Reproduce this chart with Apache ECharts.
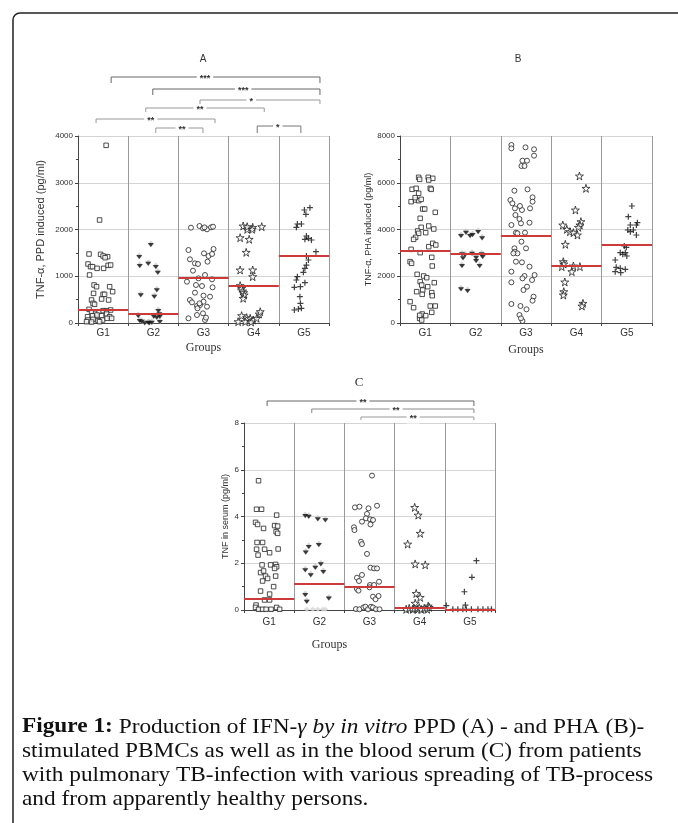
<!DOCTYPE html>
<html><head><meta charset="utf-8">
<script src="https://cdn.jsdelivr.net/npm/echarts@6/dist/echarts.min.js"></script>
<style>html,body{margin:0;padding:0;background:#fff}#c{width:678px;height:823px}</style>
</head><body><div id="c"></div>
<script>
// ---------- categories ----------
const groups = ['G1','G2','G3','G4','G5'];
// ---------- Panel A : TNF-α, PPD induced (pg/ml) ; points are [jitter within group, value] ----------
const A_G1 = [[0.06,3800],[-0.07,2203],[-0.28,1476],[-0.05,1469],[0,1433],[0.09,1419],[0.04,1397],[-0.30,1262],[-0.25,1205],[-0.21,1205],[-0.12,1169],[0.01,1169],[0.10,1233],[0.15,1240],[-0.27,1027],[-0.18,813],[-0.13,777],[0.13,777],[0,613],[0.03,613],[0.19,670],[-0.19,634],[-0.23,492],[-0.2,420],[-0.03,513],[0.11,492],[-0.17,399],[-0.28,292],[-0.23,242],[-0.15,207],[-0.08,242],[0,264],[0.07,264],[0.15,278],[-0.31,135],[-0.21,157],[-0.12,171],[-0.03,157],[0.07,192],[0.13,135],[-0.3,64],[-0.2,78],[-0.1,50],[-0.01,64],[0.08,100],[0.17,100],[-0.33,28],[-0.23,21],[-0.07,28]];
const A_G2 = [[-0.05,1690],[-0.28,1433],[-0.27,1240],[-0.10,1290],[0.05,1219],[0.09,1098],[-0.25,613],[0.02,585],[0.07,720],[-0.3,171],[0.1,278],[0.12,207],[0.07,135],[0.13,157],[-0.27,64],[-0.17,14],[-0.1,28],[-0.03,28],[0.01,157],[0.13,43],[-0.08,14],[-0.23,50]];
const A_G3 = [[-0.25,2039],[-0.08,2075],[-0.01,2025],[0.07,2004],[0.15,2046],[0.19,2060],[0.02,2046],[-0.3,1561],[0.2,1583],[0.01,1490],[0.1,1433],[0.17,1476],[-0.27,1362],[-0.17,1276],[-0.11,1262],[-0.21,1119],[0.08,1312],[-0.1,955],[0.03,1027],[0.17,934],[-0.33,884],[-0.15,813],[-0.03,791],[0.18,763],[-0.17,649],[0,585],[0.13,563],[-0.27,492],[-0.23,442],[-0.13,364],[-0.07,385],[0,456],[0.07,349],[-0.3,100],[-0.13,171],[-0.01,207],[0.03,64],[0.05,114],[-0.12,314],[-0.08,420]];
const A_G4 = [[-0.21,2075],[-0.13,2004],[-0.02,2046],[-0.13,2060],[0.16,2060],[-0.03,2004],[-0.27,1825],[-0.09,1790],[-0.15,1512],[-0.27,1134],[-0.02,1134],[-0.02,991],[-0.27,799],[-0.24,741],[-0.22,684],[-0.2,649],[-0.19,599],[-0.21,528],[-0.24,157],[-0.14,114],[-0.07,100],[-0.01,64],[0.06,100],[0.11,192],[0.13,242],[-0.31,28],[-0.17,28],[-0.05,21]];
const A_G5 = [[0.01,2417],[0.12,2467],[0.04,2324],[-0.13,2118],[-0.05,2118],[-0.15,2046],[0.05,1861],[0.09,1811],[0.02,1790],[0.15,1775],[0.24,1526],[0.05,1433],[0.09,1348],[0.05,1240],[0.02,1169],[-0.01,1084],[-0.13,991],[-0.15,920],[-0.07,777],[0.02,863],[-0.19,763],[-0.08,563],[-0.07,420],[-0.05,314],[-0.19,278],[-0.11,299]];
const A_median = [280,192,962,791,1433];
// ---------- Panel B : TNF-α, PHA induced (pg/ml) ----------
const B_G1 = [[-0.13,6232],[-0.11,6146],[0.06,6232],[0.15,6189],[0.07,6117],[-0.26,5718],[-0.18,5761],[0.1,5761],[0.12,5718],[-0.13,5547],[-0.28,5190],[-0.19,5262],[-0.13,5233],[-0.08,5290],[-0.2,5362],[-0.05,4877],[-0.01,4877],[0.2,4734],[-0.1,4478],[-0.08,4093],[0.07,4150],[0.17,4021],[-0.15,3936],[0.01,3864],[-0.13,3836],[-0.19,3665],[-0.23,3579],[0.07,3265],[0.15,3408],[0.21,3337],[-0.28,3151],[-0.1,3009],[0.13,2809],[0.14,2438],[-0.3,2624],[-0.27,2553],[-0.16,2082],[-0.03,2011],[0.03,1939],[-0.1,1768],[-0.07,1626],[0.05,1554],[0.18,1725],[0.13,1298],[0.14,1169],[-0.17,1340],[-0.05,1412],[-0.06,1226],[-0.3,913],[-0.23,656],[0.1,727],[0.2,727],[0.13,456],[-0.06,385],[0.01,314],[-0.11,200],[-0.07,128],[-0.11,328]];
const B_G2 = [[-0.29,3765],[-0.19,3907],[-0.11,3765],[-0.06,3807],[0.05,3936],[0.13,3665],[-0.27,2980],[-0.25,2809],[-0.21,2952],[-0.07,3009],[0.01,2838],[0.01,2695],[0.12,2980],[0.14,2866],[-0.27,2481],[0.08,2481],[-0.29,1483],[-0.16,1412]];
const B_G3 = [[-0.29,7615],[-0.29,7472],[-0.01,7515],[0.16,7430],[0.16,7158],[-0.07,6944],[0.02,6944],[-0.09,6716],[-0.03,6716],[-0.23,5661],[0.03,5718],[-0.31,5262],[-0.27,5119],[-0.22,4905],[-0.08,4834],[-0.12,5005],[-0.21,4620],[-0.13,4449],[-0.1,4264],[0.07,4292],[-0.29,4192],[0.13,5376],[0.13,5190],[0.08,4905],[-0.2,3864],[-0.17,3836],[-0.02,3864],[-0.09,3479],[-0.23,3194],[-0.22,3051],[-0.17,2980],[-0.25,2980],[0,3194],[-0.2,2624],[-0.08,2595],[0.07,2410],[-0.29,2196],[-0.03,2011],[-0.07,1911],[0.17,2053],[-0.29,1740],[0.12,1839],[-0.05,1412],[0.02,1554],[0.15,1127],[0.13,955],[-0.29,813],[-0.11,727],[0.01,585],[-0.13,342],[-0.07,86],[-0.1,200]];
const B_G4 = [[0.06,6289],[0.19,5761],[-0.02,4834],[0.09,4335],[0.07,4192],[-0.27,4192],[0.04,4093],[-0.19,4007],[-0.13,3907],[-0.06,3865],[0.02,3765],[-0.22,3366],[-0.26,2624],[-0.25,2524],[-0.29,2410],[-0.06,2439],[0.07,2410],[-0.09,2196],[-0.23,1754],[-0.25,1340],[-0.26,1198],[0.13,841],[0.11,727]];
const B_G5 = [[0.1,5005],[0.03,4549],[0.07,4192],[0.21,4292],[0.19,4192],[0.02,3979],[0.07,3907],[0.13,3979],[0.19,3765],[-0.05,3294],[-0.01,3237],[-0.13,3009],[-0.08,2938],[-0.03,3009],[0,2866],[-0.23,2695],[-0.21,2381],[-0.13,2339],[-0.03,2296],[-0.23,2196],[-0.12,2153]];
const B_median = [3080,2950,3720,2470,3337];
// ---------- Panel C : TNF in serum (pg/ml) ----------
const C_G1 = [[-0.21,5.53],[-0.25,4.31],[-0.15,4.31],[0.15,4.06],[-0.27,3.75],[-0.23,3.66],[-0.11,3.49],[0.11,3.61],[0.17,3.59],[0.14,3.35],[0.17,3.28],[-0.24,2.89],[-0.13,2.89],[-0.25,2.6],[-0.09,2.6],[-0.22,2.35],[0.01,2.45],[0.18,2.61],[-0.14,1.93],[0.03,1.93],[0.13,1.95],[0.15,1.85],[0.11,1.78],[-0.17,1.6],[-0.11,1.67],[-0.07,1.45],[-0.03,1.35],[-0.13,1.24],[0.13,1.45],[-0.17,0.81],[0.01,0.68],[0.09,1.0],[-0.09,0.43],[0.01,0.43],[-0.26,0.21],[-0.27,0.11],[-0.21,0.03],[-0.13,0.03],[-0.06,0.03],[0.04,0.03],[0.15,0.11],[0.21,0.03]];
const C_G2 = [[-0.28,4.06],[-0.21,4.03],[-0.03,3.92],[0.12,3.88],[-0.21,2.74],[-0.01,2.82],[-0.27,2.5],[-0.08,1.85],[0.03,2.0],[-0.28,1.74],[-0.17,1.53],[0.08,1.67],[-0.28,0.68],[-0.25,0.4],[0.19,0.54]];
const C_G2_zero = [[-0.25,0.03],[-0.13,0.03],[-0.03,0.03],[0.07,0.03],[0.12,0.03]];
const C_G3 = [[0.05,5.75],[-0.29,4.39],[-0.2,4.42],[-0.02,4.35],[0.15,4.46],[-0.05,4.11],[-0.07,3.92],[-0.15,3.78],[0.01,3.88],[0.07,3.85],[0.02,3.66],[-0.31,3.54],[-0.3,3.42],[-0.17,2.92],[-0.15,2.82],[-0.05,2.4],[0.02,1.81],[0.09,1.78],[0.15,1.78],[-0.25,1.38],[-0.15,1.5],[-0.21,1.24],[0.19,1.21],[0.01,1.07],[0.09,1.07],[0,0.97],[-0.25,0.9],[-0.22,0.83],[0.07,0.57],[0.12,0.46],[0.18,0.6],[-0.27,0.04],[-0.2,0.03],[-0.12,0.11],[-0.08,0.14],[-0.03,0.03],[0.03,0.14],[0.07,0.11],[0.13,0.03],[0.2,0.03]];
const C_G4 = [[-0.1,4.39],[-0.03,4.06],[0.01,3.28],[-0.24,2.82],[-0.09,1.97],[0.11,1.93],[-0.07,0.71],[0.01,0.54],[-0.09,0.29],[0.17,0.17],[-0.27,0.03],[-0.21,0.07],[-0.14,0.03],[-0.11,0.07],[-0.04,0.03],[-0.01,0.1],[0.03,0.03],[0.09,0.07],[0.15,0.03],[0.19,0.11]];
const C_G5 = [[0.13,2.11],[0.04,1.4],[-0.11,0.78],[-0.09,0.21],[-0.47,0.19],[-0.34,0.03],[-0.24,0.03],[-0.14,0.03],[-0.07,0.03],[0.03,0.03],[0.16,0.03],[0.26,0.03],[0.36,0.03],[0.43,0.03]];
const C_median = [0.48,1.13,1.0,0.09,0.02];
// ---------- significance brackets: [from, to (group units), label] ----------
const A_brackets = [[0.66,4.82,'***'],[1.49,4.82,'***'],[2.43,4.82,'*'],[1.35,3.71,'**'],[0.36,2.73,'**'],[1.55,2.49,'**'],[3.57,4.44,'*']];
const C_brackets = [[0.46,4.58,'**'],[1.35,4.58,'**'],[2.33,4.58,'**']];

// ---------- layout / style (not data) ----------
const A_bracketLayout = [[-59,-53,2.53,'#666'],[-47,-41,3.29,'#666'],[-36,-32,3.45,'#999'],[-28,-24,2.43,'#999'],[-17,-13,1.45,'#999'],[-8,-3,2.07,'#999'],[-10,-3,3.98,'#777']];
const C_bracketLayout = [[-22,-17,2.37,'#666'],[-14,-10,3.03,'#888'],[-6,-3,3.37,'#999']];
const STAR = 'path://M50,0 L61,35 L98,35 L68,57 L79,91 L50,70 L21,91 L32,57 L2,35 L39,35 Z';
const PLUS = 'path://M4,0h2v4h4v2h-4v4h-2v-4h-4v-2h4z';
const TRI = 'path://M0,0L10,0L5,8Z';
const open = {color:'#fff', borderColor:'#222', borderWidth:1};

const chart = echarts.init(document.getElementById('c'), null, {renderer:'canvas'});

const grids = [
  {left:78, top:136, width:251, height:187},
  {left:400, top:136, width:252, height:187},
  {left:244, top:423, width:251, height:187}
];
const yCfg = [
  {max:4000, interval:1000, name:'TNF-\u03b1, PPD induced (pg/ml)', gap:32, fs:11},
  {max:8000, interval:2000, name:'TNF-\u03b1, PHA induced (pg/ml)', gap:23, fs:9},
  {max:8, interval:2, name:'TNF in serum (pg/ml)', gap:14, fs:9}
];
const xNameGap = [19, 21, 29];
const xNamePad = [[0,0,0,0],[0,0,0,0],[0,80,0,0]];

const xAxis = [], yAxis = [], series = [];
function pts(arr, g){ return arr.map(p => [g + 0.5 + p[0], p[1]]); }

const panels = [
  {g:[A_G1,A_G2,A_G3,A_G4,A_G5], med:A_median},
  {g:[B_G1,B_G2,B_G3,B_G4,B_G5], med:B_median},
  {g:[C_G1,C_G2,C_G3,C_G4,C_G5], med:C_median, zero:C_G2_zero}
];

panels.forEach((p, k) => {
  xAxis.push({
    type:'category', gridIndex:k, data:groups, boundaryGap:true,
    axisLine:{lineStyle:{color:'#444', width:1}},
    axisTick:{show:true, length:3, lineStyle:{color:'#444'}},
    axisLabel:{color:'#333', fontSize:10, fontFamily:'Liberation Sans', margin:k===2?7:5},
    splitLine:{show:true, lineStyle:{color:'#9a9a9a', width:1}},
    name:'Groups', nameLocation:'middle', nameGap:xNameGap[k],
    nameTextStyle:{fontFamily:'Liberation Serif', fontSize:12, color:'#333', padding:xNamePad[k]}
  });
  xAxis.push({type:'value', gridIndex:k, min:0, max:5, show:false});
  const y = yCfg[k];
  yAxis.push({
    type:'value', gridIndex:k, min:0, max:y.max, interval:y.interval,
    axisLine:{show:true, lineStyle:{color:'#444'}},
    axisTick:{show:true, length:3, lineStyle:{color:'#444'}},
    minorTick:{show:true, splitNumber:2, length:2, lineStyle:{color:'#444'}},
    axisLabel:{color:'#333', fontSize:8, fontFamily:'Liberation Sans', margin:5, formatter:v => String(v)},
    splitLine:{show:true, lineStyle:{color:'#d4d4d4'}},
    name:y.name, nameLocation:'middle', nameGap:y.gap,
    nameTextStyle:{fontFamily:'Liberation Sans', fontSize:y.fs, color:'#333'}
  });
  const xi = 2*k+1, yi = k;
  const base = {type:'scatter', xAxisIndex:xi, yAxisIndex:yi, silent:true, animation:false};
  series.push(Object.assign({}, base, {data:pts(p.g[0],0), symbol:'rect', symbolSize:4.5, itemStyle:open,
    markLine:{silent:true, symbol:['none','none'], label:{show:false}, animation:false,
      lineStyle:{color:'#cc3b3b', width:2, type:'solid'},
      data:p.med.map((m,i)=>[{coord:[i,m]},{coord:[i+1,m]}])}, z:3}));
  const g2 = p.g[1];
  series.push(Object.assign({}, base, {data:pts(g2,1), symbol:'diamond', symbolSize:[6,7], itemStyle:{color:'#c8c8c8'}, z:2}));
  series.push(Object.assign({}, base, {data:pts(g2,1), symbol:TRI, symbolSize:[6,4], symbolOffset:[0,1], itemStyle:{color:'#111'}, z:2}));
  if (p.zero) series.push(Object.assign({}, base, {data:pts(p.zero,1), symbol:'diamond', symbolSize:[6,5], itemStyle:{color:'#d6d6d6'}, z:2}));
  series.push(Object.assign({}, base, {data:pts(p.g[2],2), symbol:'circle', symbolSize:5, itemStyle:open, z:2}));
  series.push(Object.assign({}, base, {data:pts(p.g[3],3), symbol:STAR, symbolSize:8, itemStyle:open, z:2}));
  series.push(Object.assign({}, base, {data:pts(p.g[4],4), symbol:PLUS, symbolSize:6, itemStyle:{color:'#111'}, z:2}));
});

chart.setOption({
  backgroundColor:'#fff', animation:false,
  grid:grids, xAxis:xAxis, yAxis:yAxis, series:series
});

// ---------- annotations (brackets, panel letters, caption) ----------
const graphic = [];
graphic.push({type:'rect', shape:{x:13, y:13, width:720, height:860, r:7}, style:{fill:'none', stroke:'#222', lineWidth:1.5}, silent:true});
function addBrackets(list, layout, xi, top){
  list.forEach((b, i) => {
    const L = layout[i];
    const x1 = chart.convertToPixel({xAxisIndex:xi}, b[0]);
    const x2 = chart.convertToPixel({xAxisIndex:xi}, b[1]);
    const xt = chart.convertToPixel({xAxisIndex:xi}, L[2]);
    const yl = top + L[0], yb = top + L[1];
    graphic.push({type:'polyline', shape:{points:[[x1,yb],[x1,yl],[x2,yl],[x2,yb]]}, style:{stroke:L[3], lineWidth:1, fill:'none'}, silent:true, z:10});
    graphic.push({type:'text', x:xt, y:yl+2, style:{text:b[2], fill:'#333', font:'bold 9px Liberation Sans', textAlign:'center', textVerticalAlign:'middle', backgroundColor:'#fff', padding:[0,3]}, silent:true, z:11});
  });
}
addBrackets(A_brackets, A_bracketLayout, 1, grids[0].top);
addBrackets(C_brackets, C_bracketLayout, 5, grids[2].top);
graphic.push({type:'text', x:203, y:59, style:{text:'A', fill:'#333', font:'10px Liberation Sans', textAlign:'center', textVerticalAlign:'middle'}});
graphic.push({type:'text', x:518, y:59, style:{text:'B', fill:'#333', font:'10px Liberation Sans', textAlign:'center', textVerticalAlign:'middle'}});
graphic.push({type:'text', x:359, y:383, style:{text:'C', fill:'#333', font:'13px Liberation Serif', textAlign:'center', textVerticalAlign:'middle'}});
const caption = [
  '{b|Figure 1:} Production of IFN-{i|\u03b3 by in vitro} PPD (A) - and PHA (B)-',
  'stimulated PBMCs as well as in the blood serum (C) from patients',
  'with pulmonary TB-infection with various spreading of TB-process',
  'and from apparently healthy persons.'
];
caption.forEach((t, i) => {
  graphic.push({type:'text', x:22, y:727 + i*24, scaleX:1.11, scaleY:1, style:{text:t, fill:'#111', font:'21px Liberation Serif', textVerticalAlign:'middle',
    rich:{b:{font:'bold 21px Liberation Serif', fill:'#111'}, i:{font:'italic 21px Liberation Serif', fill:'#111'}}}});
});
chart.setOption({graphic:graphic});
</script>
</body></html>
